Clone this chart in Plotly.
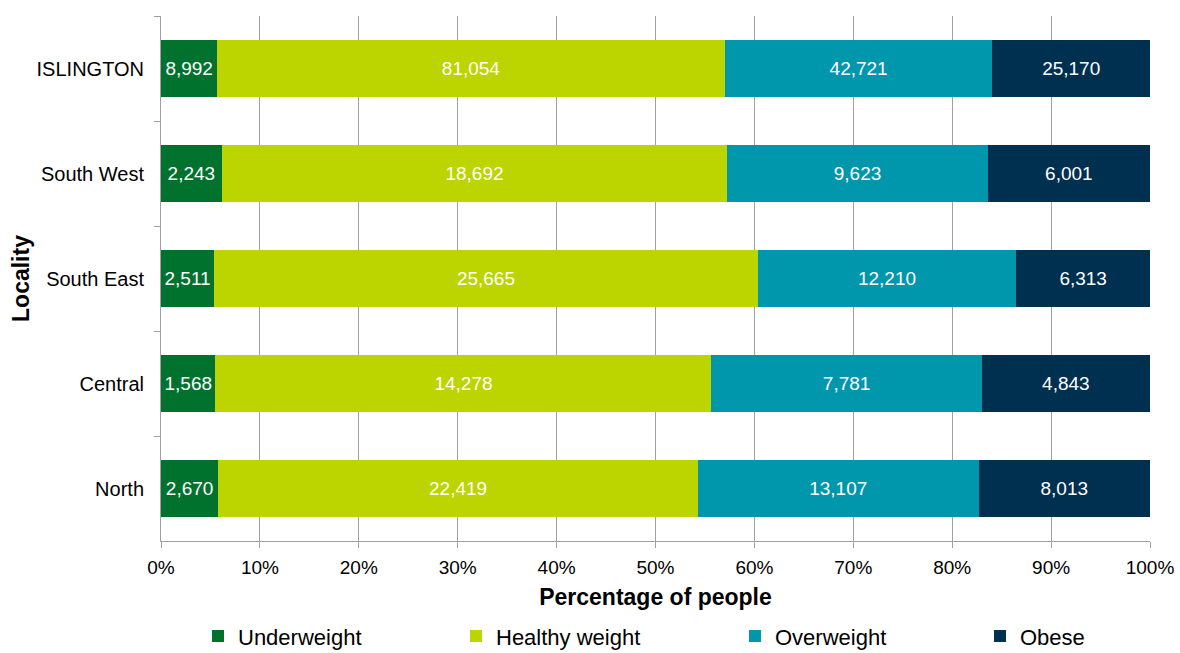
import plotly.graph_objects as go

localities = ["ISLINGTON", "South West", "South East", "Central", "North"]
underweight = [8992, 2243, 2511, 1568, 2670]
healthy = [81054, 18692, 25665, 14278, 22419]
overweight = [42721, 9623, 12210, 7781, 13107]
obese = [25170, 6001, 6313, 4843, 8013]

series = [
    ("Underweight", underweight, "#00722d"),
    ("Healthy weight", healthy, "#bcd400"),
    ("Overweight", overweight, "#0096ab"),
    ("Obese", obese, "#003050"),
]

FONT = "Liberation Sans, Arial, sans-serif"
legend_ids = ["legend", "legend2", "legend3", "legend4"]
legend_px = [198, 456, 735, 980]

fig = go.Figure()
for (name, vals, col), lid in zip(series, legend_ids):
    fig.add_trace(go.Bar(
        y=localities, x=vals, name=name, orientation="h",
        marker=dict(color=col, line=dict(width=0)),
        text=[f"{v:,}" for v in vals],
        textposition="inside", insidetextanchor="middle",
        textfont=dict(color="white", size=19, family=FONT),
        constraintext="none",
        hoverinfo="skip",
        legend=lid,
    ))

legend_layout = {}
for lid, px in zip(legend_ids, legend_px):
    legend_layout[lid] = dict(
        orientation="h", xref="container", yref="container",
        x=px / 1180, xanchor="left", y=0.058, yanchor="top",
        font=dict(size=22, family=FONT, color="black"),
        itemclick=False, itemdoubleclick=False,
        bgcolor="rgba(0,0,0,0)",
    )

fig.update_layout(
    barmode="stack", barnorm="percent", bargap=0.45,
    width=1180, height=653,
    margin=dict(l=161, r=30, t=16, b=112),
    paper_bgcolor="white", plot_bgcolor="white",
    font=dict(family=FONT, color="black", size=19),
    uniformtext=dict(minsize=19, mode="show"),
    showlegend=True,
    **legend_layout,
)
fig.update_xaxes(
    range=[0, 100], dtick=10, ticksuffix="%", automargin=False,
    showgrid=True, gridcolor="#a0a0a0", gridwidth=1,
    showline=True, linecolor="#a0a0a0", linewidth=1,
    ticks="outside", ticklen=6, tickcolor="#a0a0a0",
    ticklabelstandoff=3,
    tickfont=dict(size=19, family=FONT, color="black"),
    title=dict(text="<b>Percentage of people</b>", font=dict(size=23, family=FONT, color="black"), standoff=12),
    zeroline=False,
)
fig.update_yaxes(
    autorange="reversed", automargin=False,
    showline=True, linecolor="#a0a0a0", linewidth=1,
    ticks="outside", ticklen=6, tickcolor="#a0a0a0", tickson="boundaries",
    tickfont=dict(size=20, family=FONT, color="black"),
    ticklabelstandoff=12,
    title=dict(text="<b>Locality</b>", font=dict(size=23, family=FONT, color="black"), standoff=0),
    showgrid=False,
)

fig.write_html("out.html")
